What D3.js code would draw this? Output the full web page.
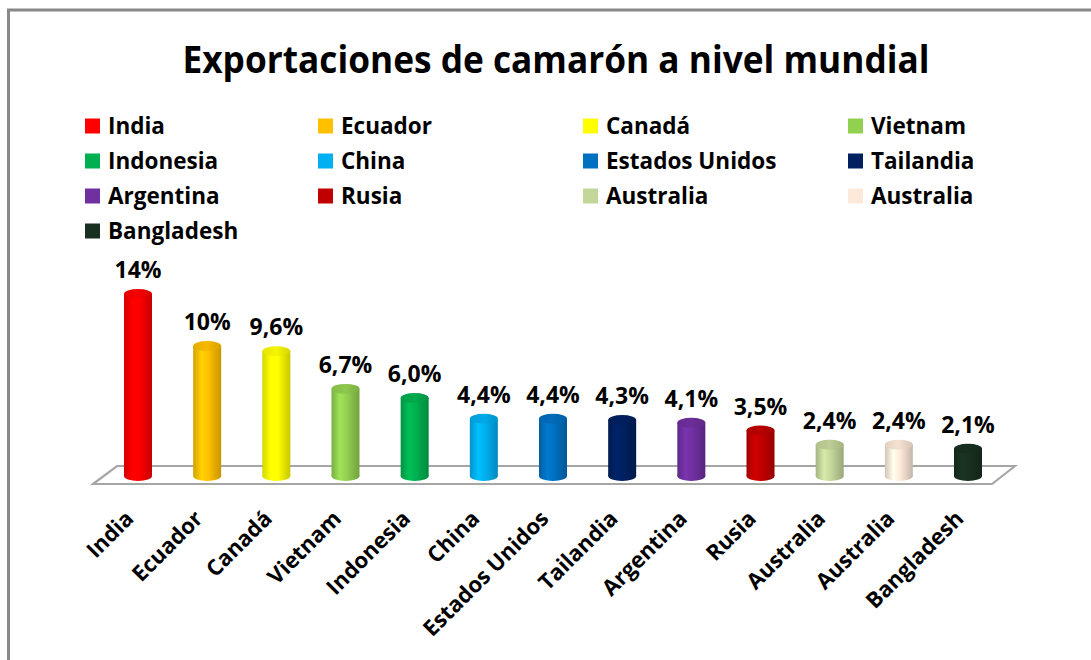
<!DOCTYPE html>
<html>
<head>
<meta charset="utf-8">
<script src="https://cdn.jsdelivr.net/npm/d3@7"></script>
<style>
  html, body { margin: 0; padding: 0; background: #fff; }
  svg { display: block; }
  text { font-family: "Open Sans", Lato, sans-serif; font-weight: bold; fill: #000; }
</style>
</head>
<body>
<svg id="chart" width="1091" height="660"></svg>
<script>
// Shrimp export share by country (%)
const titleText = "Exportaciones de camarón a nivel mundial";
const countries = ["India", "Ecuador", "Canadá", "Vietnam", "Indonesia", "China",
  "Estados Unidos", "Tailandia", "Argentina", "Rusia", "Australia", "Australia", "Bangladesh"];
const shares = [14, 10, 9.6, 6.7, 6.0, 4.4, 4.4, 4.3, 4.1, 3.5, 2.4, 2.4, 2.1];
const valueLabels = ["14%", "10%", "9,6%", "6,7%", "6,0%", "4,4%", "4,4%", "4,3%", "4,1%", "3,5%", "2,4%", "2,4%", "2,1%"];
const colors = ["#FF0000", "#FFC000", "#FFFF00", "#92D050", "#00B050", "#00B0F0",
  "#0070C0", "#002060", "#7030A0", "#C00000", "#C4D79B", "#FDE9D9", "#18301F"];

const svg = d3.select("#chart");
const W = 1091, H = 660;

// outer frame
svg.append("rect")
  .attr("x", 8.5).attr("y", 10).attr("width", W + 20).attr("height", H + 20)
  .attr("fill", "#fff").attr("stroke", "#888").attr("stroke-width", 3);

// title
svg.append("text")
  .attr("x", 556).attr("y", 73)
  .attr("text-anchor", "middle")
  .attr("font-size", 37)
  .attr("textLength", 747).attr("lengthAdjust", "spacingAndGlyphs")
  .text(titleText);

// legend: 4 columns
const legendCols = [85, 318, 583, 848];
const legendRows = [126, 161, 196, 231];
const legend = svg.append("g");
countries.forEach((c, i) => {
  const col = i % 4, row = Math.floor(i / 4);
  const g = legend.append("g").attr("transform", `translate(${legendCols[col]},${legendRows[row]})`);
  g.append("rect").attr("x", 0).attr("y", -7.5).attr("width", 15).attr("height", 15)
    .attr("fill", colors[i]);
  g.append("text").attr("x", 23).attr("y", 8).attr("font-size", 22.5).text(c);
});

// scales
const idx = d3.range(countries.length);
const x = d3.scalePoint().domain(idx).range([138, 968]);
const y = d3.scaleLinear().domain([0, 14]).range([476, 294]);
const rx = 14, ry = 5;

// floor
const baseY = y(0);
const floorPts = [
  [x(0) - 21, baseY - 10], [x(idx.length - 1) + 47, baseY - 10],
  [x(idx.length - 1) + 24, baseY + 8], [x(0) - 45, baseY + 8]
];
svg.append("polygon")
  .attr("points", floorPts.map(p => p.join(",")).join(" "))
  .attr("fill", "#fff").attr("stroke", "#a6a6a6").attr("stroke-width", 2.2);

// cylinder gradients
const defs = svg.append("defs");
colors.forEach((col, i) => {
  const c = d3.color(col);
  const grad = defs.append("linearGradient").attr("id", "cyl" + i)
    .attr("x1", "0%").attr("x2", "100%").attr("y1", "0%").attr("y2", "0%");
  [[0, c.darker(0.5)], [0.3, c.brighter(0.25)], [0.55, c], [1, c.darker(0.7)]]
    .forEach(([o, cc]) => grad.append("stop").attr("offset", o).attr("stop-color", cc.formatHex()));
  const top = defs.append("linearGradient").attr("id", "cap" + i)
    .attr("x1", "0%").attr("x2", "100%").attr("y1", "0%").attr("y2", "0%");
  [[0, c.darker(0.3)], [0.5, c.darker(0.1)], [1, c.darker(0.5)]]
    .forEach(([o, cc]) => top.append("stop").attr("offset", o).attr("stop-color", cc.formatHex()));
});

// bars
const bars = svg.append("g").selectAll("g").data(idx).join("g");
bars.append("ellipse")
  .attr("cx", i => x(i)).attr("cy", baseY).attr("rx", rx).attr("ry", ry)
  .attr("fill", i => `url(#cyl${i})`);
bars.append("rect")
  .attr("x", i => x(i) - rx).attr("width", rx * 2)
  .attr("y", i => y(shares[i])).attr("height", i => baseY - y(shares[i]))
  .attr("fill", i => `url(#cyl${i})`);
bars.append("ellipse")
  .attr("cx", i => x(i)).attr("cy", i => y(shares[i])).attr("rx", rx).attr("ry", ry)
  .attr("fill", i => `url(#cap${i})`);

// value labels
bars.append("text")
  .attr("x", i => x(i)).attr("y", i => y(shares[i]) - 16)
  .attr("text-anchor", "middle").attr("font-size", 23)
  .text(i => valueLabels[i]);

// category labels, rotated
svg.append("g").selectAll("text").data(idx).join("text")
  .attr("transform", i => `translate(${x(i) - 3},${baseY + 44}) rotate(-45)`)
  .attr("text-anchor", "end").attr("font-size", 22)
  .text(i => countries[i]);
</script>
</body>
</html>
